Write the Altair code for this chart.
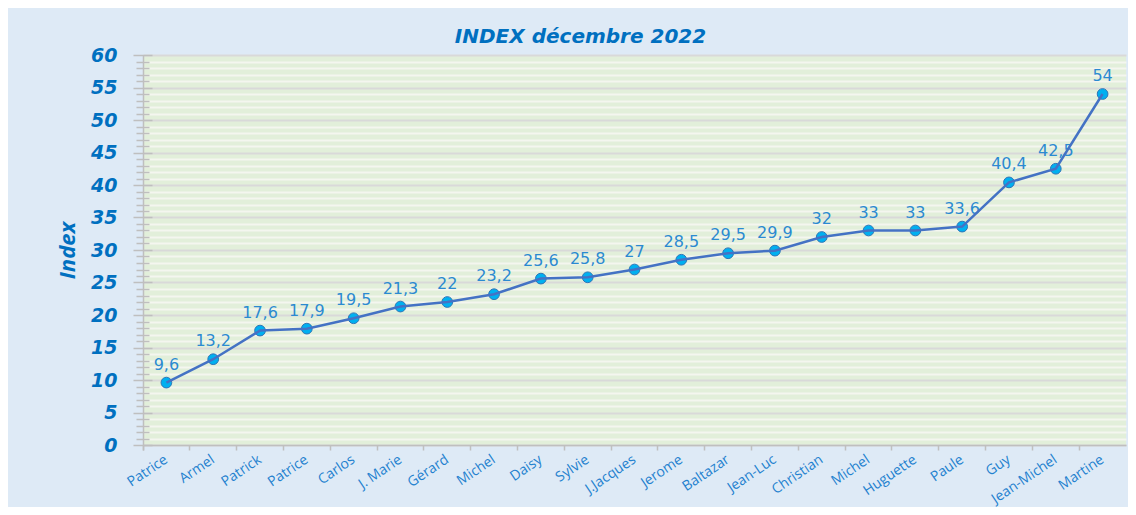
import json
import altair as alt
import pandas as pd

names = ["Patrice", "Armel", "Patrick", "Patrice", "Carlos", "J. Marie", "Gérard",
         "Michel", "Daisy", "Sylvie", "J.Jacques", "Jerome", "Baltazar", "Jean-Luc",
         "Christian", "Michel", "Huguette", "Paule", "Guy", "Jean-Michel", "Martine"]
values = [9.6, 13.2, 17.6, 17.9, 19.5, 21.3, 22, 23.2, 25.6, 25.8, 27, 28.5, 29.5,
          29.9, 32, 33, 33, 33.6, 40.4, 42.5, 54]
major_ticks = [0, 5, 10, 15, 20, 25, 30, 35, 40, 45, 50, 55, 60]
minor_ticks = [v for v in range(0, 61) if v % 5 != 0]

df = pd.DataFrame({
    "i": list(range(len(names))),
    "name": names,
    "index": values,
    "label": [f"{v:g}".replace(".", ",") for v in values],
})

label_expr = json.dumps(names, ensure_ascii=False) + "[datum.value]"

BLUE = "#0070C0"
GRAY = "#BFBFBF"

x_enc = alt.X(
    "i:O",
    scale=alt.Scale(type="band", paddingInner=0, paddingOuter=0),
    axis=alt.Axis(
        title=None, labelExpr=label_expr, labelAngle=-34, labelAlign="right",
        labelBaseline="middle", labelFont="Open Sans", labelFontSize=14,
        labelColor="#2381CF", labelPadding=8, domainColor=GRAY, domainWidth=1.5,
        tickColor=GRAY, tickSize=5, tickWidth=1.5, bandPosition=0, tickExtra=True,
        grid=False,
    ),
)
yscale = alt.Scale(domain=[0, 60], nice=False, zero=True)

line = alt.Chart(df).mark_line(color="#4472C4", strokeWidth=2.5).encode(
    x=x_enc,
    y=alt.Y("index:Q", scale=yscale, axis=alt.Axis(
        orient="left", values=major_ticks, title="Index", titleFont="Open Sans",
        titleFontSize=22, titleFontStyle="italic", titleFontWeight="bold",
        titleColor=BLUE, titlePadding=11,
        labelFont="DejaVu Sans", labelFontSize=19, labelFontStyle="italic",
        labelFontWeight="bold", labelColor=BLUE, labelPadding=26,
        ticks=False, tickSize=0, domainColor=GRAY, domainWidth=1.5,
        grid=True, gridColor="#D9D9D9", gridWidth=2,
    )),
)

points = alt.Chart(df).mark_point(
    filled=True, fill="#00B0F0", stroke="#2E75B6", strokeWidth=1, size=115,
    opacity=1, shape="circle",
).encode(
    x=alt.X("i:O"),
    y=alt.Y("index:Q", scale=yscale, axis=alt.Axis(
        orient="left", values=major_ticks, title=None, labels=False, domain=False,
        grid=False, ticks=True, tickSize=19, tickColor=GRAY, tickWidth=1.5, offset=-9,
    )),
)

labels = alt.Chart(df).mark_text(
    font="DejaVu Sans", fontSize=16, color="#2B8AD1", baseline="alphabetic", dy=-13,
).encode(
    x=alt.X("i:O"),
    y=alt.Y("index:Q", scale=yscale, axis=alt.Axis(
        orient="left", values=minor_ticks, title=None, labels=False, domain=False,
        grid=True, gridColor="#F4F6EF", gridWidth=2, ticks=True, tickSize=13,
        tickColor=GRAY, tickWidth=1.5, offset=-6,
    )),
    text="label:N",
)

chart = alt.layer(labels, points, line).resolve_axis(y="independent").properties(
    width=983, height=390,
    title=alt.TitleParams(
        "INDEX décembre 2022", font="DejaVu Sans", fontSize=20, fontStyle="italic",
        fontWeight="bold", color=BLUE, anchor="middle", dx=-54, offset=-17,
        baseline="alphabetic",
    ),
    autosize=alt.AutoSizeParams(type="none"),
    padding={"left": 135, "top": 47, "right": 2, "bottom": 62},
    background="#DEEAF6",
).configure_view(fill="#E2EFDA", stroke=None)

chart.save("out.html", embed_options={"renderer": "svg", "actions": False})
